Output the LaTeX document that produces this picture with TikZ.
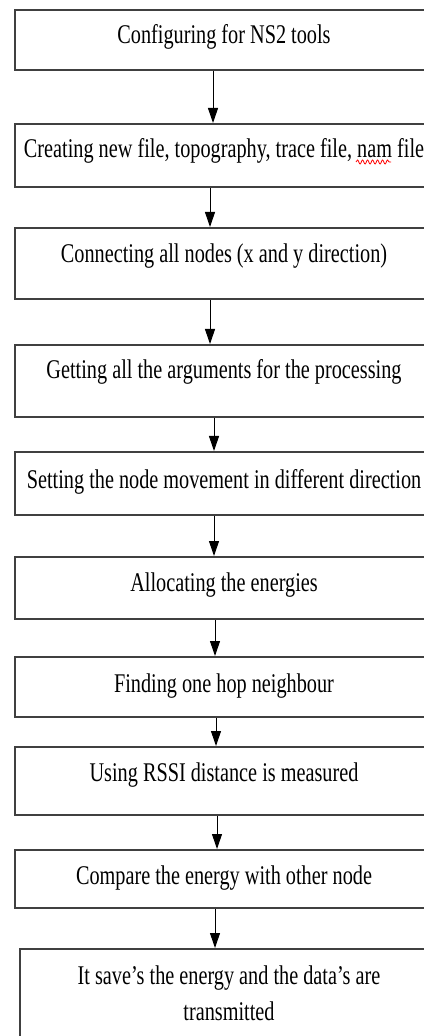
\documentclass[tikz,border=0pt]{standalone}
\usepackage{fontspec}
\setmainfont{Liberation Serif}[FakeStretch=0.75]
\usetikzlibrary{%
  arrows.meta,%
  positioning,%
  decorations.pathmorphing% wg. snake
}
\newcommand{\stepfont}{\fontsize{13.5pt}{18pt}\selectfont}

\begin{document}
\begin{tikzpicture}[
  x=0.5pt, y=-0.5pt, font=\stepfont,
  >={Triangle[length=7.5pt,width=5pt]},
  stepbox/.style={draw=black!75, line width=1pt, inner sep=0pt,
    anchor=north west, minimum width=209pt, text height=17pt}
]
\useasboundingbox (0,0) rectangle (423,1036);

\node[stepbox, text depth=13pt]   (b1) at (14,9)   {Configuring for NS2 tools};
\node[stepbox, text depth=14.5pt] (b2) at (14,123) {Creating new file, topography, trace file, nam file};
\node[stepbox, text height=17.5pt, text depth=18pt] (b3) at (14,227) {Connecting all nodes (x and y direction)};
\node[stepbox, text depth=19pt]   (b4) at (14,344) {Getting all the arguments for the processing};
\node[stepbox, text height=18pt, text depth=13.5pt] (b5) at (14,451) {Setting the node movement in different direction};
\node[stepbox, text depth=14pt]   (b6) at (14,556) {Allocating the energies};
\node[stepbox, text height=17.5pt, text depth=12.5pt] (b7) at (14,656) {Finding one hop neighbour};
\node[stepbox, text depth=17pt]   (b8) at (14,746) {Using RSSI distance is measured};
\node[stepbox, text depth=12pt]   (b9) at (14,849) {Compare the energy with other node};
% two lines: height runs down to the last baseline
\node[stepbox, text height=35.5pt, text depth=20pt, align=center] (b10) at (19,948)
  {It save’s the energy and the data’s are\\transmitted};

% spell check mark under "nam"
\draw[red, line width=0.4pt, decorate,
  decoration={snake, amplitude=1pt, segment length=2.5pt}] (356,162) -- (391,162);

\foreach \a/\b/\dx in {b1/b2/-11, b2/b3/-14, b3/b4/-14, b4/b5/-10, b5/b6/-10,
                       b6/b7/-9, b7/b8/-8, b8/b9/-7, b9/b10/-9} {
  \draw[->, line width=0.5pt] ([xshift=\dx*0.5pt]\a.south) -- ([xshift=\dx*0.5pt]\a.south |- \b.north);
}
\end{tikzpicture}
\end{document}
